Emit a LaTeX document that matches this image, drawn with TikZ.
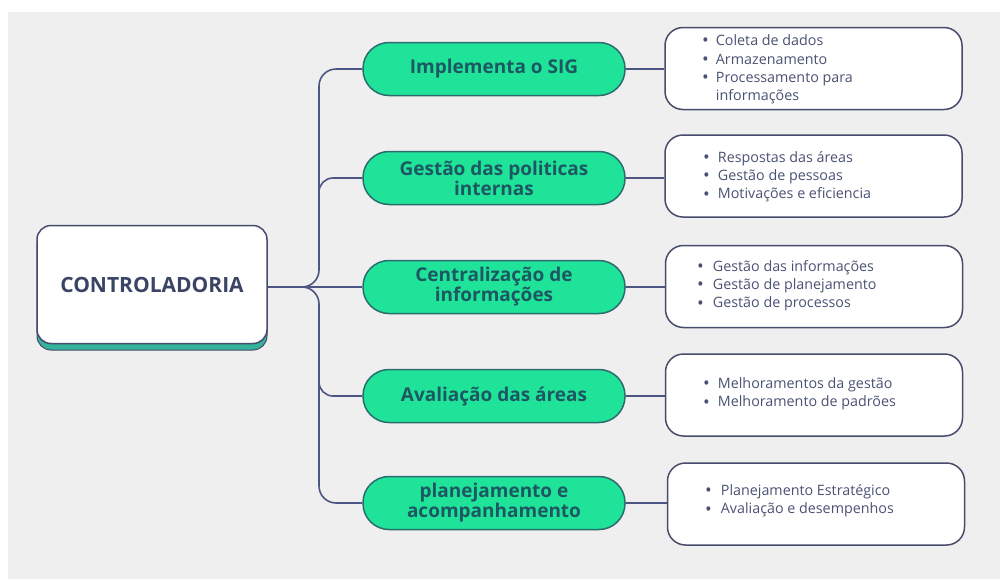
\documentclass[tikz,border=0pt]{standalone}
\usepackage{fontspec}
\setmainfont{Open Sans}
\definecolor{bgc}{HTML}{EFEFEF}
\definecolor{pillfill}{HTML}{20E39A}
\definecolor{pillline}{HTML}{2B6C6E}
\definecolor{pilltext}{HTML}{1D5862}
\definecolor{boxline}{HTML}{474C6C}
\definecolor{itemtext}{HTML}{4A5274}
\definecolor{connc}{HTML}{4D5582}
\definecolor{ctrltext}{HTML}{3A4566}
\definecolor{shadowc}{HTML}{33B49A}
\tikzset{
  pill/.style={draw=pillline, line width=1.5pt, fill=pillfill, rounded corners=26pt,
    minimum width=262pt, minimum height=53pt, align=center, text=pilltext,
    font=\fontsize{19}{18}\selectfont\bfseries, inner sep=0pt},
  itembox/.style={draw=boxline, line width=1.5pt, fill=white, rounded corners=18pt,
    minimum width=297pt, minimum height=82pt, inner sep=0pt},
  items/.style={anchor=west, text=itemtext, font=\fontsize{14.3}{18.3}\selectfont, inner sep=0pt},
  conn/.style={draw=connc, line width=1.6pt},
}
\newcommand{\bl}{\raisebox{-1.2pt}{\scalebox{1.25}{\textbullet}}}
\begin{document}
\begin{tikzpicture}[x=1pt,y=-1pt]
\useasboundingbox (0,0) rectangle (1000,579);
\fill[white] (0,0) rectangle (1000,579);
\fill[bgc] (8,12) rectangle (1000,579);
% central box
\fill[shadowc, draw=boxline, line width=1pt, rounded corners=14pt] (37,232) rectangle (267,350);
\node[draw=boxline, line width=1.5pt, fill=white, rounded corners=14pt, minimum width=230pt,
  minimum height=118pt, inner sep=0pt, text=ctrltext, font=\fontsize{21}{22}\selectfont\bfseries]
  (ctrl) at (152,284.5) {CONTROLADORIA};
% pills
\node[pill] (p1) at (494,69) {Implementa o SIG};
\node[pill] (p2) at (494,178) {Gestão das politicas\\internas};
\node[pill] (p3) at (494,287) {Centralização de\\informações};
\node[pill] (p4) at (494,396) {Avaliação das áreas};
\node[pill] (p5) at (494,503) {planejamento e\\acompanhamento};
% right boxes
\node[itembox] (b1) at (813.5,68.5) {};
\node[itembox] (b2) at (813.5,176) {};
\node[itembox] (b3) at (814,286.5) {};
\node[itembox] (b4) at (814,395) {};
\node[itembox] (b5) at (816,504) {};
\node[items] (t1) at (702,69.5) {\begin{tabular}{@{}l@{\hspace{7pt}}l@{}}\bl&Coleta de dados\\\bl&Armazenamento\\\bl&Processamento para\\&informações\end{tabular}};
\node[items] (t2) at (703,177) {\begin{tabular}{@{}l@{\hspace{8pt}}l@{}}\bl&Respostas das áreas\\\bl&Gestão de pessoas\\\bl&Motivações e eficiencia\end{tabular}};
\node[items] (t3) at (697,286) {\begin{tabular}{@{}l@{\hspace{9pt}}l@{}}\bl&Gestão das informações\\\bl&Gestão de planejamento\\\bl&Gestão de processos\end{tabular}};
\node[items] (t4) at (703,394) {\begin{tabular}{@{}l@{\hspace{8pt}}l@{}}\bl&Melhoramentos da gestão\\\bl&Melhoramento de padrões\end{tabular}};
\node[items] (t5) at (705,501) {\begin{tabular}{@{}l@{\hspace{9pt}}l@{}}\bl&Planejamento Estratégico\\\bl&Avaliação e desempenhos\end{tabular}};
% trunk
\coordinate (trunk) at (319,287);
\coordinate (up2) at (319,230);
\coordinate (dn4) at (319,340);
\draw[conn, rounded corners=17pt] (trunk -| ctrl.east) -- (trunk) |- (p1.west);
\draw[conn, rounded corners=17pt] (trunk -| ctrl.east) -- (trunk) |- (p5.west);
\draw[conn, rounded corners=14pt] (up2) |- (p2.west);
\draw[conn, rounded corners=14pt] (dn4) |- (p4.west);
\draw[conn] (trunk -| ctrl.east) -- (p3.west);
% pill to box
\foreach \i in {1,...,5} { \draw[conn] (p\i.east) -- (p\i.east -| b\i.west); }
\end{tikzpicture}
\end{document}
